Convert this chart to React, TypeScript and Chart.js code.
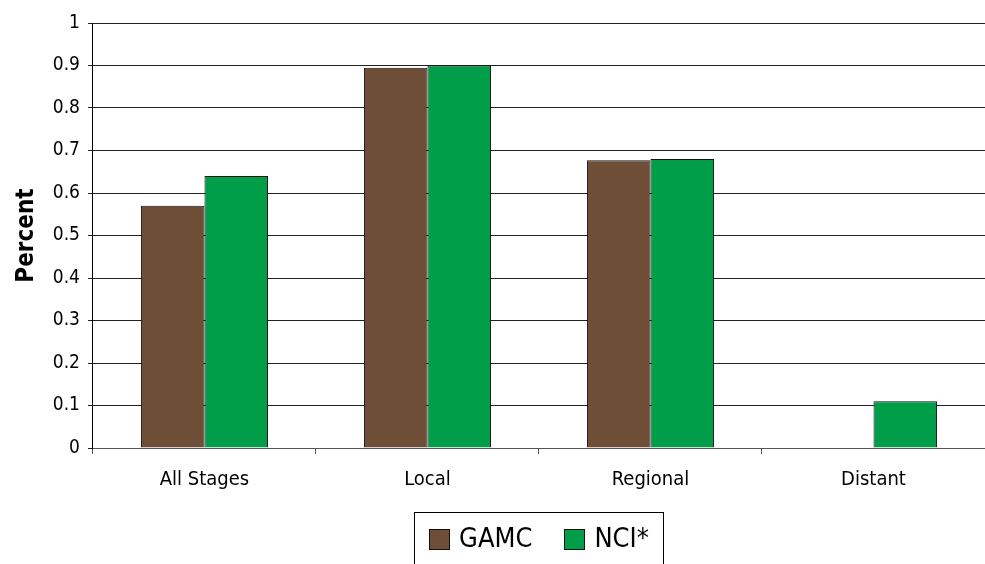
import React, { useEffect, useRef } from "react";
import { Chart, registerables } from "chart.js";

Chart.register(...registerables);

const categories = ["All Stages", "Local", "Regional", "Distant"];
const gamcValues = [0.57, 0.895, 0.677, null];
const nciValues = [0.64, 0.9, 0.68, 0.11];
const yTicks = [0, 0.1, 0.2, 0.3, 0.4, 0.5, 0.6, 0.7, 0.8, 0.9, 1];

const FONT = "'DejaVu Sans Condensed', 'Liberation Sans Narrow', Arial, sans-serif";

const customLegend = {
  id: "customLegend",
  afterDraw(chart: any) {
    const ca = chart.chartArea;
    const ctx = chart.ctx;
    const ds = chart.data.datasets;
    ctx.save();
    ctx.font = `27px ${FONT}`;
    const box = 21;
    const gapBoxText = 9;
    const gapItems = 32;
    const widths = ds.map((d: any) => ctx.measureText(d.label).width);
    let total = 0;
    widths.forEach((w: number, i: number) => {
      total += box + gapBoxText + w + (i < widths.length - 1 ? gapItems : 0);
    });
    const cx = (ca.left + ca.right) / 2;
    const top = ca.bottom + 64;
    const boxW = 249;
    ctx.strokeStyle = "#000";
    ctx.lineWidth = 1;
    ctx.strokeRect(Math.round(cx - boxW / 2) + 0.5, Math.round(top) + 0.5, boxW, 80);
    let x = cx - total / 2;
    const cy = top + 27;
    ds.forEach((d: any, i: number) => {
      ctx.fillStyle = d.backgroundColor;
      ctx.fillRect(Math.round(x), Math.round(cy - box / 2), box, box);
      ctx.strokeStyle = "#111";
      ctx.strokeRect(Math.round(x) + 0.5, Math.round(cy - box / 2) + 0.5, box - 1, box - 1);
      ctx.fillStyle = "#000";
      ctx.textBaseline = "middle";
      ctx.textAlign = "left";
      ctx.fillText(d.label, x + box + gapBoxText, cy + 1);
      x += box + gapBoxText + widths[i] + gapItems;
    });
    ctx.restore();
  },
};

export default function App() {
  const ref = useRef<HTMLCanvasElement>(null);
  useEffect(() => {
    if (!ref.current) return;
    const chart = new Chart(ref.current, {
      type: "bar",
      data: {
        labels: categories,
        datasets: [
          {
            label: "GAMC",
            data: gamcValues as any,
            backgroundColor: "#6f4e37",
            borderColor: "#111",
            borderWidth: 1,
          },
          {
            label: "NCI*",
            data: nciValues,
            backgroundColor: "#009e49",
            borderColor: "#111",
            borderWidth: 1,
          },
        ],
      },
      plugins: [customLegend],
      options: {
        animation: false,
        responsive: false,
        maintainAspectRatio: false,
        layout: { padding: { left: 12, right: 0, top: 23, bottom: 58 } },
        datasets: { bar: { categoryPercentage: 0.57, barPercentage: 1 } },
        plugins: {
          tooltip: { enabled: false },
          legend: { display: false },
        },
        scales: {
          x: {
            grid: {
              display: true,
              drawOnChartArea: false,
              drawTicks: true,
              tickLength: 6,
              color: "#555",
              offset: true,
            },
            border: { color: "#555", width: 1 },
            ticks: { color: "#000", font: { family: FONT, size: 20 }, padding: 14 },
          },
          y: {
            min: 0,
            max: 1,
            afterBuildTicks: (axis: any) => {
              axis.ticks = yTicks.map((v) => ({ value: v }));
            },
            grid: { color: "#222", tickLength: 5, drawTicks: true },
            border: { color: "#000", width: 1 },
            ticks: {
              color: "#000",
              font: { family: FONT, size: 19 },
              padding: 8,
              callback: (v: any) => String(v),
            },
            title: {
              display: true,
              text: "Percent",
              color: "#000",
              font: { family: FONT, size: 24, weight: "bold" },
              padding: { top: 0, bottom: 4 },
            },
          },
        },
      },
    });
    return () => chart.destroy();
  }, []);
  return (
    <div style={{ position: "fixed", left: 0, top: 0, width: 985, height: 564, background: "#fff" }}>
      <canvas ref={ref} width={985} height={564} style={{ width: 985, height: 564 }} />
    </div>
  );
}
